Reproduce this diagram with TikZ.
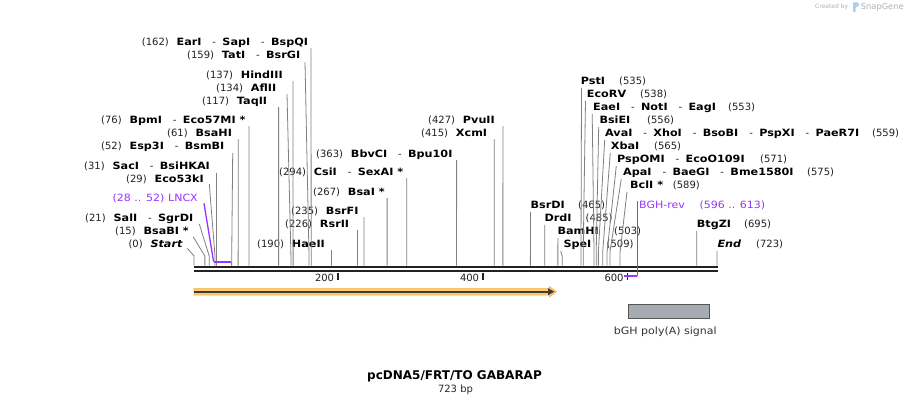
\documentclass[tikz,border=0pt]{standalone}
\usepackage{fontspec}
\setmainfont{DejaVu Sans}
\newfontfamily\enfont{DejaVu Sans}[FakeStretch=1.12]
\newfontfamily\rgfont{DejaVu Sans}[FakeStretch=1.1]
\usetikzlibrary{arrows.meta}
\definecolor{cutgray}{RGB}{128,128,128}
\definecolor{featpurple}{RGB}{153,51,255}
\definecolor{axisblack}{RGB}{34,34,34}
\definecolor{orangeband}{RGB}{255,204,115}
\definecolor{orangeedge}{RGB}{245,178,75}
\definecolor{arrowdark}{RGB}{60,60,60}
\definecolor{boxgray}{RGB}{166,172,178}
\definecolor{boxedge}{RGB}{85,85,85}
\definecolor{credit}{RGB}{175,175,175}
\definecolor{logoblue}{RGB}{170,205,235}
\newcommand\sx[1]{194+#1*0.72337}
\begin{document}
\begin{tikzpicture}[x=1pt,y=-1pt,
  txt/.style={inner sep=0pt, anchor=west, text height=7.3pt, text depth=0pt,
              font=\fontsize{10}{12}\selectfont, text=black!88},
  en/.style={txt, font=\fontsize{10}{12}\enfont\bfseries, text=black},
  eni/.style={txt, font=\fontsize{10}{12}\enfont\bfseries\itshape, text=black},
  pt/.style={txt, font=\fontsize{10}{12}\rgfont, text=featpurple},
  cut/.style={draw=cutgray, line width=0.8pt},
  pline/.style={draw=featpurple, line width=1.3pt},
  pbrack/.style={draw=featpurple, line width=2pt},
  axisline/.style={draw=axisblack, line width=2.3pt},
  tick/.style={draw=axisblack, line width=1.8pt}]
\useasboundingbox (0,0) rectangle (912,405);

% ---------- axis ----------
\coordinate (axL) at (194,267.2);
\coordinate (axR) at (718,267.2);
\coordinate (axL2) at (194,271.2);
\coordinate (axR2) at (718,271.2);
\draw[axisline] (axL) -- (axR);
\draw[axisline] (axL2) -- (axR2);

% ticks
\coordinate (t200a) at (337.7,273); \coordinate (t200b) at (337.7,279.5);
\coordinate (t400a) at (482.7,273); \coordinate (t400b) at (482.7,279.5);
\coordinate (t600a) at (627.5,273); \coordinate (t600b) at (627.5,279.5);
\draw[tick] (t200a) -- (t200b);
\draw[tick] (t400a) -- (t400b);
\draw[tick] (t600a) -- (t600b);
\node[txt, anchor=east] (l200) at (334.3,278.3) {200};
\node[txt, anchor=east] (l400) at (479.3,278.3) {400};
\node[txt, anchor=east] (l600) at (623.8,278.3) {600};

% ---------- left cluster labels ----------
\node[txt] (a1) at (141.7,42) {(162)};
\node[en]  (a2) at ([xshift=7.5pt]a1.east) {EarI};
\node[txt] (a3) at ([xshift=10.5pt]a2.east) {-};
\node[en]  (a4) at ([xshift=10pt]a3.west) {SapI};
\node[txt] (a5) at ([xshift=10.5pt]a4.east) {-};
\node[en]  (a6) at ([xshift=10pt]a5.west) {BspQI};

\node[txt] (b1) at (187,55) {(159)};
\node[en]  (b2) at ([xshift=7.5pt]b1.east) {TatI};
\node[txt] (b3) at ([xshift=10.5pt]b2.east) {-};
\node[en]  (b4) at ([xshift=10pt]b3.west) {BsrGI};

\node[txt] (c1) at (206,75) {(137)};
\node[en]  (c2) at ([xshift=7.5pt]c1.east) {HindIII};

\node[txt] (d1) at (216,88) {(134)};
\node[en]  (d2) at ([xshift=7.5pt]d1.east) {AflII};

\node[txt] (e1) at (202,101) {(117)};
\node[en]  (e2) at ([xshift=7.5pt]e1.east) {TaqII};

\node[txt] (f1) at (101,120) {(76)};
\node[en]  (f2) at ([xshift=7.5pt]f1.east) {BpmI};
\node[txt] (f3) at ([xshift=10.5pt]f2.east) {-};
\node[en]  (f4) at ([xshift=10pt]f3.west) {Eco57MI *};

\node[txt] (g1) at (167,133) {(61)};
\node[en]  (g2) at ([xshift=7.5pt]g1.east) {BsaHI};

\node[txt] (h1) at (101,146) {(52)};
\node[en]  (h2) at ([xshift=7.5pt]h1.east) {Esp3I};
\node[txt] (h3) at ([xshift=10.5pt]h2.east) {-};
\node[en]  (h4) at ([xshift=10pt]h3.west) {BsmBI};

\node[txt] (i1) at (84,166) {(31)};
\node[en]  (i2) at ([xshift=7.5pt]i1.east) {SacI};
\node[txt] (i3) at ([xshift=10.5pt]i2.east) {-};
\node[en]  (i4) at ([xshift=10pt]i3.west) {BsiHKAI};

\node[txt] (j1) at (126,179) {(29)};
\node[en]  (j2) at ([xshift=7.5pt]j1.east) {Eco53kI};

\node[pt]  (k1) at (112.5,198) {(28 .. 52)};
\node[pt]  (k2) at (168,198) {LNCX};

\node[txt] (m1) at (85,218) {(21)};
\node[en]  (m2) at ([xshift=7.5pt]m1.east) {SalI};
\node[txt] (m3) at ([xshift=10.5pt]m2.east) {-};
\node[en]  (m4) at ([xshift=10pt]m3.west) {SgrDI};

\node[txt] (n1) at (115,231) {(15)};
\node[en]  (n2) at ([xshift=7.5pt]n1.east) {BsaBI *};

\node[txt] (o1) at (128.3,244) {(0)};
\node[eni] (o2) at ([xshift=7.5pt]o1.east) {Start};

% ---------- middle labels ----------
\node[txt] (p1) at (316,154) {(363)};
\node[en]  (p2) at ([xshift=7.5pt]p1.east) {BbvCI};
\node[txt] (p3) at ([xshift=10.5pt]p2.east) {-};
\node[en]  (p4) at ([xshift=10pt]p3.west) {Bpu10I};

\node[txt] (q1) at (279,172) {(294)};
\node[en]  (q2) at ([xshift=7.5pt]q1.east) {CsiI};
\node[txt] (q3) at ([xshift=10.5pt]q2.east) {-};
\node[en]  (q4) at ([xshift=10pt]q3.west) {SexAI *};

\node[txt] (r1) at (313,192) {(267)};
\node[en]  (r2) at ([xshift=7.5pt]r1.east) {BsaI *};

\node[txt] (s1) at (291,211) {(235)};
\node[en]  (s2) at ([xshift=7.5pt]s1.east) {BsrFI};

\node[txt] (u1) at (285,224) {(226)};
\node[en]  (u2) at ([xshift=7.5pt]u1.east) {RsrII};

\node[txt] (v1) at (257,244) {(190)};
\node[en]  (v2) at ([xshift=7.5pt]v1.east) {HaeII};

\node[txt] (w1) at (428,120) {(427)};
\node[en]  (w2) at ([xshift=7.5pt]w1.east) {PvuII};

\node[txt] (x1) at (421,133) {(415)};
\node[en]  (x2) at ([xshift=7.5pt]x1.east) {XcmI};

% ---------- right cluster labels ----------
\node[en]  (R1a) at (580.7,81) {PstI};
\node[txt] (R1b) at (619,81) {(535)};

\node[en]  (R2a) at (586.7,94) {EcoRV};
\node[txt] (R2b) at (640,94) {(538)};

\node[en]  (R3a) at (593,107) {EaeI};
\node[txt] (R3b) at ([xshift=10.5pt]R3a.east) {-};
\node[en]  (R3c) at ([xshift=10pt]R3b.west) {NotI};
\node[txt] (R3d) at ([xshift=10.5pt]R3c.east) {-};
\node[en]  (R3e) at ([xshift=10pt]R3d.west) {EagI};
\node[txt] (R3f) at (728,107) {(553)};

\node[en]  (R4a) at (599.3,120) {BsiEI};
\node[txt] (R4b) at (647,120) {(556)};

\node[en]  (R5a) at (605,133) {AvaI};
\node[txt] (R5b) at ([xshift=10.5pt]R5a.east) {-};
\node[en]  (R5c) at ([xshift=10pt]R5b.west) {XhoI};
\node[txt] (R5d) at ([xshift=10.5pt]R5c.east) {-};
\node[en]  (R5e) at ([xshift=10pt]R5d.west) {BsoBI};
\node[txt] (R5f) at ([xshift=10.5pt]R5e.east) {-};
\node[en]  (R5g) at ([xshift=10pt]R5f.west) {PspXI};
\node[txt] (R5h) at ([xshift=10.5pt]R5g.east) {-};
\node[en]  (R5i) at ([xshift=10pt]R5h.west) {PaeR7I};
\node[txt] (R5j) at (872,133) {(559)};

\node[en]  (R6a) at (610.7,146) {XbaI};
\node[txt] (R6b) at (654,146) {(565)};

\node[en]  (R7a) at (617,159) {PspOMI};
\node[txt] (R7b) at ([xshift=10.5pt]R7a.east) {-};
\node[en]  (R7c) at ([xshift=10pt]R7b.west) {EcoO109I};
\node[txt] (R7d) at (760,159) {(571)};

\node[en]  (R8a) at (623,172) {ApaI};
\node[txt] (R8b) at ([xshift=10.5pt]R8a.east) {-};
\node[en]  (R8c) at ([xshift=10pt]R8b.west) {BaeGI};
\node[txt] (R8d) at ([xshift=10.5pt]R8c.east) {-};
\node[en]  (R8e) at ([xshift=10pt]R8d.west) {Bme1580I};
\node[txt] (R8f) at (807,172) {(575)};

\node[en]  (R9a) at (630,185) {BclI *};
\node[txt] (R9b) at (672.7,185) {(589)};

\node[en]  (S1a) at (530.5,205) {BsrDI};
\node[txt] (S1b) at (578,205) {(465)};

\node[en]  (S2a) at (544.3,218) {DrdI};
\node[txt] (S2b) at (585.5,218) {(485)};

\node[en]  (S3a) at (557.3,231) {BamHI};
\node[txt] (S3b) at (614,231) {(503)};

\node[en]  (S4a) at (563.3,244) {SpeI};
\node[txt] (S4b) at (606.5,244) {(509)};

\node[pt]  (P1a) at (639,205) {BGH-rev};
\node[pt]  (P1b) at (699.3,205) {(596 .. 613)};

\node[en]  (T1a) at (696.7,224) {BtgZI};
\node[txt] (T1b) at (744,224) {(695)};

\node[eni] (T2a) at (717.3,244) {End};
\node[txt] (T2b) at (756,244) {(723)};

% ---------- cut-site lines ----------
% left cluster (bend at 256)
\draw[cut] (311,48) -- ({\sx{162}},256) -- ({\sx{162}},265.5);
\draw[cut] (305,62) -- ({\sx{159}},256) -- ({\sx{159}},265.5);
\draw[cut] (293,81) -- ({\sx{137}},256) -- ({\sx{137}},265.5);
\draw[cut] (287,94) -- ({\sx{134}},256) -- ({\sx{134}},265.5);
\draw[cut] (278.6,107) -- ({\sx{117}},265.5);
\draw[cut] (249,126) -- ({\sx{76}},265.5);
\draw[cut] (238.3,139) -- ({\sx{61}},265.5);
\draw[cut] (232.7,153) -- ({\sx{52}},265.5);
\draw[cut] (216.4,173) -- ({\sx{31}},265.5);
\draw[cut] (209.3,184) -- ({\sx{29}},256) -- ({\sx{29}},265.5);
\draw[cut] (199.3,224) -- ({\sx{21}},256) -- ({\sx{21}},265.5);
\draw[cut] (193.3,237) -- ({\sx{15}},256) -- ({\sx{15}},265.5);
\draw[cut] (187.3,248.3) -- ({\sx{0}},256) -- ({\sx{0}},265.5);
% middle
\draw[cut] (331.4,250) -- ({\sx{190}},265.5);
\draw[cut] (357.5,230) -- ({\sx{226}},265.5);
\draw[cut] (364,217) -- ({\sx{235}},265.5);
\draw[cut] (387.1,198) -- ({\sx{267}},265.5);
\draw[cut] (406.7,178) -- ({\sx{294}},265.5);
\draw[cut] (456.6,160) -- ({\sx{363}},265.5);
\draw[cut] (494.2,139) -- ({\sx{415}},265.5);
\draw[cut] (502.9,126) -- ({\sx{427}},265.5);
% right cluster (bend at 252)
\draw[cut] ([shift={(0.8,3)}]R1a.south west) -- ({\sx{535}},252) -- ({\sx{535}},265.5);
\draw[cut] ([shift={(-1.2,3)}]R2a.south west) -- ({\sx{538}},252) -- ({\sx{538}},265.5);
\draw[cut] ([shift={(-0.8,3)}]R3a.south west) -- ({\sx{553}},252) -- ({\sx{553}},265.5);
\draw[cut] ([shift={(-0.6,3)}]R4a.south west) -- ({\sx{556}},252) -- ({\sx{556}},265.5);
\draw[cut] ([shift={(-0.3,3)}]R5a.south west) -- ({\sx{559}},252) -- ({\sx{559}},265.5);
\draw[cut] ([shift={(-0.4,3)}]R6a.south west) -- ({\sx{565}},252) -- ({\sx{565}},265.5);
\draw[cut] ([shift={(-0.7,3)}]R7a.south west) -- ({\sx{571}},252) -- ({\sx{571}},265.5);
\draw[cut] ([shift={(-1.7,3)}]R8a.south west) -- ({\sx{575}},252) -- ({\sx{575}},265.5);
\draw[cut] ([shift={(-3,3)}]R9a.south west) -- ({\sx{589}},252) -- ({\sx{589}},265.5);
\draw[cut] ([shift={(0,3)}]S1a.south west) -- ({\sx{465}},265.5);
\draw[cut] ([shift={(0.5,3)}]S2a.south west) -- ({\sx{485}},265.5);
\draw[cut] ([shift={(0.6,3)}]S3a.south west) -- ({\sx{503}},265.5);
\draw[cut] ([shift={(-2.6,3)}]S4a.south west) -- ({\sx{509}},256) -- ({\sx{509}},265.5);
\draw[cut] ([shift={(0,3)}]T1a.south west) -- ({\sx{695}},265.5);
\draw[cut] ([shift={(-0.3,3)}]T2a.south west) -- ({\sx{723}},265.5);

% ---------- primers ----------
\coordinate (lncxTop) at (204,203.3);
\coordinate (lncxA) at (213.6,261.7);
\coordinate (lncxB) at (231.2,261.7);
\draw[pline] (lncxTop) -- (lncxA);
\draw[pbrack] (lncxA) -- (lncxB);

\coordinate (bghTop) at ([xshift=-1.7pt]P1a.north west);
\coordinate (bghA) at (637.3,275.7);
\coordinate (bghB) at (624.3,275.7);
\draw[pline] (bghTop) -- (bghA);
\draw[pbrack] (bghA) -- (bghB);

% ---------- ORF arrow ----------
\filldraw[fill=orangeband, draw=orangeedge, line width=0.6pt]
  (194,288.4) -- (549.5,288.4) -- (549.5,286.6) -- (556.5,291.7)
  -- (549.5,296.8) -- (549.5,295) -- (194,295) -- cycle;
\coordinate (orfA) at (194,291.7);
\coordinate (orfB) at (554.5,291.7);
\draw[arrowdark, line width=2pt, -{Triangle[length=6.5pt,width=6.5pt]}] (orfA) -- (orfB);

% ---------- bGH poly(A) ----------
\node[draw=boxedge, fill=boxgray, line width=0.8pt, minimum width=81pt,
      minimum height=14pt, inner sep=0pt] (polyA) at (668.8,311.3) {};
\node[txt, anchor=center, font=\fontsize{10}{12}\rgfont, text=black!80] (polyAl) at (665.3,331) {bGH poly(A) signal};

% ---------- title ----------
\node[inner sep=0pt, font=\fontsize{12}{14}\selectfont\bfseries] (title) at (454.5,376.5) {pcDNA5/FRT/TO GABARAP};
\node[inner sep=0pt, font=\fontsize{10}{12}\selectfont, text=black!85] (len) at (455.5,389.5) {723 bp};

% ---------- credit ----------
\node[inner sep=0pt, anchor=west, font=\fontsize{6}{7}\selectfont, text=credit] (cred1) at (815,7.2) {Created by};
\fill[logoblue, rounded corners=0.8pt] (853,2.3) -- (857.5,2.3) -- (859.3,4.5) -- (857.3,7) -- (855.6,7) -- (855.6,12) -- (853,12) -- cycle;
\node[inner sep=0pt, anchor=west, font=\fontsize{8.3}{9}\selectfont, text=credit] (cred2) at (860.7,7.2) {SnapGene};
\end{tikzpicture}
\end{document}
